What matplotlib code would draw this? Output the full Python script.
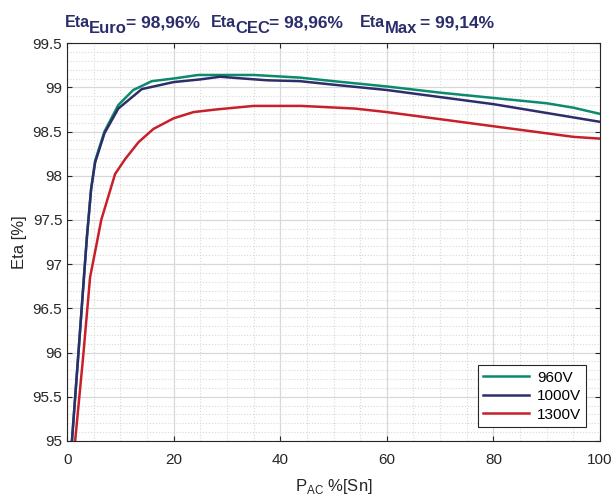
import matplotlib.pyplot as plt
from matplotlib.ticker import MultipleLocator

# data
x_960 = [0.9, 2.1, 3.2, 3.7, 4.5, 5.25, 7, 9.6, 12.4, 15.9, 20, 24.6, 30, 35, 43.7, 50, 60, 70, 80, 90, 95, 100]
y_960 = [95.0, 95.98, 96.89, 97.3, 97.85, 98.17, 98.5, 98.8, 98.97, 99.07, 99.1, 99.14, 99.14, 99.14, 99.11, 99.07, 99.01, 98.94, 98.88, 98.82, 98.77, 98.70]

x_1000 = [0.9, 2.1, 3.2, 3.7, 4.5, 5.25, 7, 9.6, 14, 20, 25, 28.7, 33, 37.5, 43.7, 50, 60, 70, 80, 90, 100]
y_1000 = [95.0, 95.98, 96.89, 97.3, 97.85, 98.15, 98.48, 98.76, 98.98, 99.06, 99.09, 99.12, 99.1, 99.08, 99.07, 99.03, 98.97, 98.89, 98.81, 98.71, 98.61]

x_1300 = [1.5, 3, 4.3, 5.6, 6.4, 9, 10.9, 13.4, 16.2, 20, 23.7, 28, 35, 41, 44, 54, 60, 70, 80, 90, 95, 100]
y_1300 = [95.0, 95.95, 96.85, 97.25, 97.5, 98.02, 98.19, 98.38, 98.53, 98.65, 98.72, 98.75, 98.79, 98.79, 98.79, 98.76, 98.72, 98.64, 98.56, 98.48, 98.44, 98.42]

labels = ['960V', '1000V', '1300V']
colors = ['#0b8a6c', '#2e2d6b', '#c8202a']

plt.rcParams['font.family'] = ['Liberation Sans', 'DejaVu Sans']

fig = plt.figure(figsize=(6.16, 4.96), dpi=100)
ax = fig.add_axes([0.109, 0.111, 0.865, 0.802])

ax.plot(x_960, y_960, color=colors[0], lw=1.8, label=labels[0])
ax.plot(x_1000, y_1000, color=colors[1], lw=1.8, label=labels[1])
ax.plot(x_1300, y_1300, color=colors[2], lw=1.8, label=labels[2])

ax.set_xlim(0, 100)
ax.set_ylim(95, 99.5)
ax.xaxis.set_major_locator(MultipleLocator(20))
ax.xaxis.set_minor_locator(MultipleLocator(5))
ax.yaxis.set_major_locator(MultipleLocator(0.5))
ax.yaxis.set_minor_locator(MultipleLocator(0.1))
ax.set_yticklabels([('%g' % v) for v in ax.get_yticks()])
ax.grid(which='major', color='#d8d8d8', lw=0.9)
ax.grid(which='minor', color='#d8d8d8', lw=0.8, ls=':')
ax.tick_params(which='both', direction='in', top=True, right=True, labelsize=11, colors='#262626')
ax.tick_params(axis='x', pad=9)
ax.tick_params(which='minor', length=0)
for s in ax.spines.values():
    s.set_color('#262626')
    s.set_linewidth(0.8)

ax.set_xlabel('P$_{\\mathregular{AC}}$ %[Sn]', fontsize=12, color='#262626', labelpad=7)
ax.set_ylabel('Eta [%]', fontsize=12, color='#262626')

leg = ax.legend(loc='lower right', fontsize=11, handlelength=3.0, fancybox=False,
                edgecolor='#262626', borderaxespad=0.9, framealpha=1,
                labelspacing=0.3, borderpad=0.35, handletextpad=0.5)
leg.get_frame().set_linewidth(0.8)

# header
tc = '#2b2d6b'
hf = dict(color=tc, fontweight='bold', va='top')
for xe, xs, xv, sub, val in [(65, 89, 126, 'Euro', '= 98,96%'),
                             (211, 235, 269, 'CEC', '= 98,96%'),
                             (360, 385, 420, 'Max', '= 99,14%')]:
    fig.text(xe / 616, 1 - 15 / 496, 'Eta', fontsize=11.5, **hf)
    fig.text(xs / 616, 1 - 21 / 496, sub, fontsize=12, **hf)
    fig.text(xv / 616, 1 - 16 / 496, val, fontsize=12.5, **hf)

fig.savefig('out.png', dpi=100)
